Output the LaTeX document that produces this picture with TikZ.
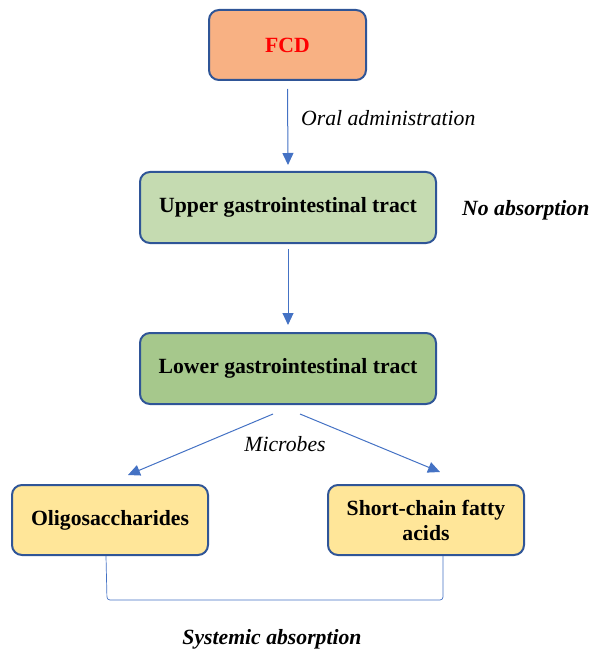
\documentclass[tikz,border=0pt]{standalone}
\usepackage{fontspec}
\setmainfont{Liberation Serif}
\usepackage{tikz}
\usetikzlibrary{arrows.meta}
\definecolor{boxblue}{HTML}{2F5597}
\definecolor{arrowblue}{HTML}{4472C4}
\definecolor{fcdfill}{HTML}{F8B183}
\definecolor{upperfill}{HTML}{C5DBB1}
\definecolor{lowerfill}{HTML}{A6C88C}
\definecolor{productfill}{HTML}{FFE699}
\tikzstyle{stage}=[draw=boxblue,line width=2pt,rounded corners=10pt,font=\fontsize{21.7}{25}\selectfont\bfseries,align=center,inner sep=0pt]
\tikzstyle{wide}=[minimum width=296pt,minimum height=71pt]
\tikzstyle{product}=[minimum width=196pt,minimum height=70pt,fill=productfill]
\tikzstyle{flow}=[draw=arrowblue,line width=1pt,-{Triangle[length=12pt,width=11pt]}]
\tikzstyle{note}=[font=\fontsize{21.7}{25}\selectfont\itshape,inner sep=0pt]

\begin{document}
\begin{tikzpicture}[x=1pt,y=-1pt]
\useasboundingbox (0,0) rectangle (591,655);
\node [stage,fill=fcdfill,minimum width=157pt,minimum height=70pt,text=red] (fcd) at (287.5,45) {FCD};
\node [stage,wide,fill=upperfill] (upper) at (288,207.5) {Upper gastrointestinal tract};
\node [stage,wide,fill=lowerfill] (lower) at (288,368.5) {Lower gastrointestinal tract};
\node [stage,product] (oligo) at (110,520) {Oligosaccharides};
\node [stage,product] (scfa) at (426,520) {Short-chain fatty\\acids};
\draw [flow] ([yshift=-8pt]fcd.south) -- ([yshift=6pt]upper.north);
\draw [flow] ([yshift=-5pt]upper.south) -- ([yshift=7pt]lower.north);
\draw [flow] ([xshift=-15pt,yshift=-9pt]lower.south) -- ([xshift=18pt,yshift=9pt]oligo.north);
\draw [flow] ([xshift=12pt,yshift=-9pt]lower.south) -- ([xshift=14pt,yshift=12pt]scfa.north);
\draw [draw=arrowblue,line width=0.7pt,rounded corners=3pt] ([xshift=-4pt]oligo.south) -- ++(1,44) -| ([xshift=17pt]scfa.south);
\node [note,anchor=west] (oral) at (301,118) {Oral administration};
\node [note,anchor=west,font=\fontsize{21.7}{25}\selectfont\bfseries\itshape] (noabs) at (462,210) {No absorption};
\node [note] (microbes) at (285,444) {Microbes};
\node [note,font=\fontsize{21.7}{25}\selectfont\bfseries\itshape] (systemic) at (272,639) {Systemic absorption};
\end{tikzpicture}
\end{document}
